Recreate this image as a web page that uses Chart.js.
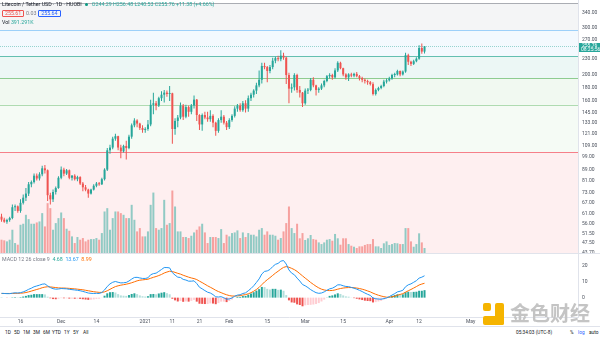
<!DOCTYPE html>
<html>
<head>
<meta charset="utf-8">
<script src="https://cdn.jsdelivr.net/npm/chart.js@4.4.1/dist/chart.umd.min.js"></script>
<style>
  html, body { margin: 0; padding: 0; background: #fff; }
  #wrap { position: relative; width: 600px; height: 337px; overflow: hidden;
          font-family: Roboto, 'Liberation Sans', sans-serif; color: #131722; }
  canvas { position: absolute; left: 0; }
  #priceCanvas { top: 0; }
  #macdCanvas { top: 253px; }
  .row { position: absolute; left: 2px; font-size: 5.3px; line-height: 7px; white-space: nowrap; z-index: 2; }
  .up { color: #26a69a; }
  .dot { display: inline-block; width: 3px; height: 3px; border-radius: 50%; background: #089981; margin: 0 4px 0 3px; vertical-align: 0; }
  .box { display: inline-block; border: 0.5px solid; border-radius: 1px; padding: 0 2px; line-height: 5px; }
  .sell { color: #ef5350; border-color: #ef5350; }
  .buy { color: #2962ff; border-color: #2962ff; }
  .gap { display: inline-block; width: 14px; text-align: center; color: #787b86; }
  .blue { color: #2196f3; }
  .orange { color: #ff6d00; }
  #toolbar { position: absolute; top: 328px; left: 0; width: 600px; height: 9px; font-size: 4.8px; line-height: 9px; z-index: 2; }
  #toolbar span { position: absolute; }
  #wm { position: absolute; left: 483px; top: 302px; z-index: 3; }
  #wm .logo { position: absolute; left: 0; top: 1px; width: 21px; height: 22px; }
  #wm .logo i { position: absolute; background: #f5b400; border-radius: 2px; }
  #wm .txt { position: absolute; left: 27px; top: -4px; font-family: 'Noto Sans CJK SC'; font-weight: 700;
             font-size: 20px; color: #c4c4c4; white-space: nowrap; letter-spacing: 0; }
</style>
</head>
<body>
<div id="wrap">
  <canvas id="priceCanvas" width="600" height="253"></canvas>
  <canvas id="macdCanvas" width="600" height="75"></canvas>

  <div class="row" style="top:1px">Litecoin / Tether USD · 1D · HUOBI<span class="dot"></span><span class="up">O244.29 H256.48 L240.53 C255.76 +11.38 (+4.66%)</span></div>
  <div class="row" style="top:10px"><span class="box sell">255.61</span><span class="gap">0.03</span><span class="box buy">255.64</span></div>
  <div class="row" style="top:19px">Vol <span class="up">391.291K</span></div>
  <div class="row" style="top:256px;color:#787b86">MACD 12 26 close 9 &nbsp;<span class="up">4.68</span> &nbsp;<span class="blue">13.67</span> &nbsp;<span class="orange">8.99</span></div>

  <div id="toolbar">
    <span style="left:5px">1D</span><span style="left:14px">5D</span><span style="left:23px">1M</span>
    <span style="left:33px">3M</span><span style="left:43px">6M</span><span style="left:52px">YTD</span>
    <span style="left:64px">1Y</span><span style="left:73px">5Y</span><span style="left:83px">All</span>
    <span style="left:516px">05:34:03 (UTC-8)</span>
    <span style="left:570px">%</span><span style="left:578px;color:#2962ff">log</span><span style="left:589px">auto</span>
  </div>

  <div id="wm">
    <div class="logo">
      <i style="left:0;top:0;width:8px;height:8px"></i>
      <i style="left:12px;top:0;width:9px;height:22px"></i>
      <i style="left:0;top:13px;width:21px;height:9px"></i>
    </div>
    <div class="txt">金色财经</div>
  </div>
</div>

<script>
// daily LTC/USDT candles, first one is Nov 9 2020 (day -7, counted from Nov 16)
const START_DAY = -7;
const X_MIN = -7.56;
const X_MAX = 205.6;

const open = [
  59.5, 58.0, 57.0, 57.8, 58.8, 64.5, 65.0,
  62.5, 67.0, 70.0, 72.5, 78.5, 80.0, 84.5, 82.5, 85.5, 90.0,
  88.5, 71.5, 69.0, 73.5, 76.0, 83.0, 89.0, 86.0, 88.5, 83.0,
  84.5, 82.0, 83.5, 79.0, 76.5, 75.0, 72.5, 75.0, 77.5, 79.0,
  78.5, 82.0, 89.0, 105.0, 107.5, 116.0, 118.5, 107.5, 104.0, 109.0,
  107.0, 118.0, 130.0, 135.5, 132.0, 127.0, 125.0, 126.0, 131.0, 155.0,
  157.0, 154.0, 164.0, 169.0, 172.0, 170.0, 171.0, 126.0, 135.0, 139.0,
  154.0, 140.0, 152.0, 146.0, 154.0, 162.0, 142.0, 131.0, 142.0, 139.0,
  137.0, 141.0, 133.0, 124.0, 136.0, 140.0, 133.0, 128.0, 136.0, 141.0,
  150.0, 154.0, 148.0, 157.0, 150.0, 164.0, 169.0, 175.0, 183.0, 192.0,
  216.0, 214.0, 207.0, 214.0, 226.0, 231.0, 229.0, 236.0, 232.0, 200.0,
  178.0, 180.0, 200.0, 176.0, 172.0, 157.0, 175.0, 176.0, 192.0, 183.0,
  176.0, 178.0, 183.0, 190.0, 198.0, 200.0, 196.0, 208.0, 222.0, 212.0,
  201.0, 196.0, 201.0, 199.0, 202.0, 198.0, 195.0, 192.0, 190.0, 188.0,
  185.0, 170.0, 176.0, 179.0, 182.0, 189.0, 191.0, 194.0, 200.0, 201.0,
  207.0, 201.0, 206.0, 237.0, 224.0, 220.0, 225.0, 230.0, 252.0, 244.29
];
const high = [
  61.0, 59.0, 58.5, 59.5, 66.0, 66.0, 65.5,
  69.0, 72.0, 76.0, 80.0, 81.0, 86.0, 86.0, 87.0, 92.0, 92.5,
  89.0, 73.0, 75.0, 77.0, 84.0, 91.5, 90.5, 89.5, 89.0, 85.0,
  85.5, 84.5, 84.0, 80.0, 78.0, 75.5, 75.5, 78.5, 80.0, 80.0,
  83.0, 90.0, 107.0, 110.0, 118.0, 121.0, 119.0, 110.0, 110.0, 114.0,
  120.0, 132.0, 138.0, 137.0, 133.0, 130.0, 128.0, 136.0, 162.0, 172.0,
  160.0, 166.0, 174.0, 176.0, 175.0, 182.0, 172.0, 138.0, 142.0, 158.0,
  156.0, 155.0, 154.0, 156.0, 168.0, 163.0, 143.0, 144.0, 146.0, 146.0,
  148.0, 143.0, 134.0, 138.0, 148.0, 142.0, 135.0, 138.0, 143.0, 153.0,
  156.0, 157.0, 160.0, 161.0, 168.0, 172.0, 177.0, 187.0, 208.0, 222.0,
  222.0, 216.0, 218.0, 232.0, 234.0, 236.0, 247.0, 242.0, 234.0, 204.0,
  186.0, 203.0, 202.0, 182.0, 173.0, 178.0, 179.0, 195.0, 196.0, 184.0,
  180.0, 186.0, 192.0, 200.0, 203.0, 202.0, 212.0, 225.0, 224.0, 213.0,
  203.0, 203.0, 204.0, 204.0, 205.0, 200.0, 197.0, 194.0, 192.0, 190.0,
  188.0, 178.0, 181.0, 184.0, 192.0, 194.0, 197.0, 202.0, 204.0, 209.0,
  208.0, 208.0, 242.0, 240.0, 226.0, 228.0, 233.0, 258.0, 262.0, 256.48
];
const low = [
  57.0, 56.5, 56.0, 57.0, 58.2, 62.5, 61.5,
  61.5, 66.0, 68.0, 71.0, 76.5, 79.0, 81.0, 81.0, 84.0, 86.0,
  68.0, 66.0, 67.5, 72.0, 75.5, 82.0, 84.0, 85.0, 82.0, 81.0,
  81.0, 80.5, 78.0, 74.0, 74.0, 70.0, 72.0, 74.5, 76.5, 77.5,
  78.0, 81.0, 88.0, 102.0, 106.0, 114.0, 105.0, 98.0, 103.0, 97.0,
  106.0, 116.0, 128.0, 128.0, 125.0, 122.0, 122.0, 124.0, 129.0, 143.0,
  148.0, 152.0, 160.0, 158.0, 166.0, 160.0, 111.0, 120.0, 128.0, 137.0,
  136.0, 138.0, 140.0, 143.0, 150.0, 135.0, 125.0, 124.0, 137.0, 134.0,
  134.0, 128.0, 119.0, 122.0, 133.0, 131.0, 125.0, 126.0, 134.0, 139.0,
  146.0, 146.0, 146.0, 145.0, 146.0, 160.0, 165.0, 170.0, 180.0, 186.0,
  210.0, 188.0, 203.0, 210.0, 221.0, 225.0, 225.0, 228.0, 185.0, 157.0,
  172.0, 175.0, 172.0, 165.0, 152.0, 155.0, 170.0, 174.0, 180.0, 168.0,
  172.0, 176.0, 180.0, 188.0, 194.0, 192.0, 194.0, 205.0, 210.0, 198.0,
  192.0, 190.0, 196.0, 196.0, 196.0, 191.0, 188.0, 186.0, 184.0, 183.0,
  168.0, 168.0, 174.0, 177.0, 180.0, 186.0, 189.0, 192.0, 196.0, 199.0,
  198.0, 199.0, 204.0, 218.0, 216.0, 218.0, 223.0, 228.0, 240.0, 240.53
];
const close = [
  58.0, 57.0, 57.8, 58.8, 64.5, 65.0, 62.5,
  67.0, 70.0, 72.5, 78.5, 80.0, 84.5, 82.5, 85.5, 90.0, 88.5,
  71.5, 69.0, 73.5, 76.0, 83.0, 89.0, 86.0, 88.5, 83.0, 84.5,
  82.0, 83.5, 79.0, 76.5, 75.0, 72.5, 75.0, 77.5, 79.0, 78.5,
  82.0, 89.0, 105.0, 107.5, 116.0, 118.5, 107.5, 104.0, 109.0, 107.0,
  118.0, 130.0, 135.5, 132.0, 127.0, 125.0, 126.0, 131.0, 155.0, 157.0,
  154.0, 164.0, 169.0, 172.0, 170.0, 171.0, 126.0, 135.0, 139.0, 154.0,
  140.0, 152.0, 146.0, 154.0, 162.0, 142.0, 131.0, 142.0, 139.0, 137.0,
  141.0, 133.0, 124.0, 136.0, 140.0, 133.0, 128.0, 136.0, 141.0, 150.0,
  154.0, 148.0, 157.0, 150.0, 164.0, 169.0, 175.0, 183.0, 192.0, 216.0,
  214.0, 207.0, 214.0, 226.0, 231.0, 229.0, 236.0, 232.0, 200.0, 178.0,
  180.0, 200.0, 176.0, 172.0, 157.0, 175.0, 176.0, 192.0, 183.0, 176.0,
  178.0, 183.0, 190.0, 198.0, 200.0, 196.0, 208.0, 222.0, 212.0, 201.0,
  196.0, 201.0, 199.0, 202.0, 198.0, 195.0, 192.0, 190.0, 188.0, 185.0,
  170.0, 176.0, 179.0, 182.0, 189.0, 191.0, 194.0, 200.0, 201.0, 207.0,
  201.0, 206.0, 237.0, 224.0, 220.0, 225.0, 230.0, 252.0, 244.38, 255.76
];
// volume in thousands of LTC
const volume = [
  1040, 990, 910, 1040, 1820, 780, 650,
  2210, 2290, 2990, 2650, 2290, 2290, 2390, 2470, 3120, 2080,
  3900, 3510, 1820, 2340, 2730, 3170, 2730, 1900, 1740, 1300,
  780, 1250, 1040, 1170, 910, 1040, 1090, 1090, 1170, 1040,
  1560, 3250, 3510, 1820, 2730, 3250, 3250, 3120, 2990, 2730,
  2730, 3770, 2600, 1690, 1950, 1300, 1300, 1690, 3770, 4730,
  1950, 1820, 1950, 4160, 2210, 2340, 4890, 3640, 1690, 1690,
  1250, 1250, 1170, 1350, 1610, 1820, 2080, 2290, 1610, 780,
  1250, 1250, 1250, 1170, 1870, 780, 1430, 1300, 1560, 1610,
  1770, 1170, 1610, 1250, 1560, 1430, 1430, 1300, 1820, 1950,
  1430, 1690, 1430, 1430, 1350, 1040, 1170, 1690, 2340, 3640,
  1950, 1560, 2290, 1150, 1560, 1020, 1150, 1410, 1090, 1040,
  830, 700, 830, 1040, 1090, 960, 1490, 1150, 650, 1150,
  1150, 700, 570, 490, 390, 520, 520, 630, 700, 700,
  1090, 520, 520, 390, 760, 910, 630, 700, 780, 760,
  700, 700, 1950, 1950, 910, 490, 700, 1540, 830, 391.291
];
const macdLine = [
  2.7, 2.6, 2.5, 2.5, 2.8, 3.0, 2.9,
  3.1, 3.6, 4.3, 5.2, 5.9, 6.8, 7.3, 7.8, 8.4, 8.6,
  7.4, 6.3, 5.6, 5.3, 5.4, 5.7, 5.6, 5.5, 5.2, 5.0,
  4.8, 4.6, 4.3, 3.9, 3.4, 2.9, 2.7, 2.6, 2.7, 2.6,
  3.2, 4.8, 7.0, 8.6, 9.6, 10.1, 9.6, 9.2, 9.3, 9.5,
  10.4, 11.6, 12.6, 12.7, 12.3, 12.0, 12.0, 12.4, 14.3, 15.0,
  15.3, 16.4, 17.6, 18.8, 18.8, 18.6, 15.6, 14.1, 12.8, 12.6,
  11.4, 11.0, 10.3, 10.3, 10.5, 8.8, 6.5, 5.5, 4.4, 3.4,
  2.9, 1.9, 0.5, 0.4, 0.6, -0.1, -1.0, -0.8, -0.2, 0.9,
  1.6, 1.8, 2.6, 3.0, 4.3, 5.7, 7.4, 9.5, 11.7, 14.8,
  16.4, 16.7, 17.6, 19.4, 20.8, 21.4, 22.8, 23.2, 21.0, 17.3,
  15.3, 14.3, 12.2, 10.4, 8.2, 7.4, 6.3, 5.0, 4.0, 3.1,
  2.7, 2.9, 3.6, 4.6, 5.5, 5.9, 6.8, 8.0, 8.0, 7.4,
  7.0, 6.9, 6.4, 5.9, 5.3, 4.6, 3.8, 2.9, 2.1, 1.4,
  -0.2, -0.7, -0.9, -1.0, -0.6, -0.2, 0.6, 1.6, 2.5, 3.6,
  4.0, 4.6, 6.8, 8.0, 8.6, 9.6, 10.6, 12.2, 12.8, 13.67
];
const signalLine = [
  2.6, 2.6, 2.6, 2.6, 2.6, 2.7, 2.7,
  2.8, 2.9, 3.2, 3.6, 4.1, 4.6, 5.1, 5.6, 6.2, 6.6,
  6.8, 6.7, 6.5, 6.3, 6.1, 6.0, 6.0, 5.9, 5.8, 5.6,
  5.5, 5.3, 5.1, 4.9, 4.6, 4.3, 4.0, 3.7, 3.5, 3.3,
  3.3, 3.6, 4.3, 5.2, 6.1, 6.9, 7.4, 7.8, 8.1, 8.4,
  8.8, 9.3, 9.9, 10.5, 10.9, 11.1, 11.3, 11.5, 12.1, 12.7,
  13.2, 13.8, 14.5, 15.4, 16.0, 16.5, 16.3, 15.8, 15.2, 14.7,
  14.0, 13.4, 12.8, 12.3, 11.9, 11.3, 10.3, 9.4, 8.4, 7.4,
  6.5, 5.6, 4.6, 3.8, 3.1, 2.4, 1.8, 1.3, 1.0, 1.0,
  1.1, 1.3, 1.6, 1.9, 2.4, 3.1, 4.0, 5.1, 6.4, 8.1,
  9.8, 11.2, 12.5, 13.9, 15.3, 16.5, 17.8, 18.9, 19.4, 19.0,
  18.3, 17.5, 16.4, 15.0, 13.6, 12.2, 10.9, 9.5, 8.3, 7.1,
  6.1, 5.3, 4.8, 4.5, 4.4, 4.5, 4.8, 5.3, 5.7, 6.0,
  6.2, 6.3, 6.3, 6.2, 6.0, 5.7, 5.3, 4.8, 4.2, 3.6,
  2.8, 2.1, 1.5, 1.0, 0.6, 0.3, 0.3, 0.5, 0.9, 1.5,
  2.0, 2.5, 3.4, 4.3, 5.1, 6.0, 6.9, 7.9, 8.5, 8.99
];

const priceTicks = [340, 300, 270, 230, 200, 180, 160, 145, 133, 121, 109, 99, 89, 81, 73, 67, 61, 56, 51.5, 47.5, 43.7];
const macdTicks = [0, 10, 20];
const timeTickDays = [0, 15, 28, 46, 56, 66, 77, 91, 105, 119, 136, 147, 166];
const timeTickLabels = ['16', 'Dec', '14', '2021', '11', '21', 'Feb', '15', 'Mar', '15', 'Apr', '12', 'May'];

// fib retracement levels (price) and their colours, lowest first
const fibLevels = [25.5, 103.5, 155, 195, 235, 294, 370];
const fibColors = ['#787b86', '#f23645', '#81c784', '#4caf50', '#089981', '#64b5f6', '#787b86'];

const COUNTDOWN = '08:25:56';
const UP = '#26a69a';
const DOWN = '#ef5350';
const AXIS_TEXT = '#4c525e';
const PANE_LINE = '#e0e3eb';
const AXIS_FONT = { size: 5 };

Chart.defaults.font.family = "Roboto, 'Liberation Sans', sans-serif";

function rgba(hex, a) {
  const n = parseInt(hex.slice(1), 16);
  return `rgba(${n >> 16},${(n >> 8) & 255},${n & 255},${a})`;
}

const days = close.map((_, i) => START_DAY + i);
const isUp = close.map((c, i) => c >= open[i]);
const candleColors = isUp.map(u => (u ? UP : DOWN));
const volumeColors = isUp.map(u => (u ? rgba(UP, 0.5) : rgba(DOWN, 0.5)));

const hist = macdLine.map((m, i) => m - signalLine[i]);
const histColors = hist.map((h, i) => {
  const prev = i > 0 ? hist[i - 1] : h;
  if (h >= 0) return h >= prev ? '#26a69a' : '#b2dfdb';
  return h < prev ? '#ef5350' : '#ffcdd2';
});

// shared sizing for the right hand price scale
function fixRightAxis(scale) {
  scale.width = 22;
  scale.paddingTop = 0;
  scale.paddingBottom = 0;
}

const fibBands = {
  id: 'fibBands',
  beforeDatasetsDraw(chart) {
    const { ctx, chartArea: a, scales: { y } } = chart;
    ctx.save();
    ctx.beginPath();
    ctx.rect(a.left, a.top, a.right - a.left, a.bottom - a.top);
    ctx.clip();
    for (let i = 1; i < fibLevels.length; i++) {
      const yTop = y.getPixelForValue(fibLevels[i]);
      const yBot = y.getPixelForValue(fibLevels[i - 1]);
      ctx.fillStyle = rgba(fibColors[i], 0.08);
      ctx.fillRect(a.left, yTop, a.right - a.left, yBot - yTop);
      ctx.strokeStyle = rgba(fibColors[i], 0.6);
      ctx.lineWidth = 1;
      ctx.beginPath();
      ctx.moveTo(a.left, Math.round(yTop) + 0.5);
      ctx.lineTo(a.right, Math.round(yTop) + 0.5);
      ctx.stroke();
    }
    ctx.restore();
  }
};

const lastPrice = {
  id: 'lastPrice',
  afterDraw(chart) {
    const { ctx, chartArea: a, scales: { y } } = chart;
    const last = close[close.length - 1];
    const py = Math.round(y.getPixelForValue(last)) + 0.5;
    ctx.save();
    ctx.strokeStyle = rgba(UP, 0.45);
    ctx.lineWidth = 1;
    ctx.setLineDash([1, 1]);
    ctx.beginPath();
    ctx.moveTo(a.left, py);
    ctx.lineTo(a.right, py);
    ctx.stroke();
    ctx.setLineDash([]);
    // pane / scale border
    ctx.strokeStyle = PANE_LINE;
    ctx.beginPath();
    ctx.moveTo(a.right + 0.5, a.top);
    ctx.lineTo(a.right + 0.5, a.bottom);
    ctx.stroke();
    // price tag on the scale
    ctx.fillStyle = UP;
    ctx.fillRect(a.right + 1, py - 3.5, 21, 9);
    ctx.fillStyle = '#fff';
    ctx.font = "5px Roboto, 'Liberation Sans', sans-serif";
    ctx.textBaseline = 'middle';
    ctx.textAlign = 'left';
    ctx.fillText(last.toFixed(2), a.right + 4, py - 0.5);
    ctx.fillText(COUNTDOWN, a.right + 3, py + 3.5);
    ctx.restore();
  }
};

const paneBorders = {
  id: 'paneBorders',
  afterDraw(chart) {
    const { ctx, chartArea: a } = chart;
    ctx.save();
    ctx.strokeStyle = PANE_LINE;
    ctx.lineWidth = 1;
    ctx.beginPath();
    ctx.moveTo(0, 0.5);
    ctx.lineTo(chart.width, 0.5);
    ctx.moveTo(a.right + 0.5, a.top);
    ctx.lineTo(a.right + 0.5, a.bottom);
    ctx.moveTo(0, chart.height - 1.5);
    ctx.lineTo(chart.width, chart.height - 1.5);
    ctx.stroke();
    ctx.restore();
  }
};

new Chart(document.getElementById('priceCanvas'), {
  type: 'bar',
  data: {
    datasets: [
      {
        label: 'body',
        data: days.map((d, i) => ({ x: d, y: [open[i], close[i]] })),
        backgroundColor: candleColors,
        barThickness: 2,
        minBarLength: 1,
        grouped: false,
        inflateAmount: 0,
        order: 1,
        yAxisID: 'y'
      },
      {
        label: 'wick',
        data: days.map((d, i) => ({ x: d, y: [low[i], high[i]] })),
        backgroundColor: candleColors,
        barThickness: 1,
        grouped: false,
        inflateAmount: 0,
        order: 2,
        yAxisID: 'y'
      },
      {
        label: 'volume',
        data: days.map((d, i) => ({ x: d, y: volume[i] })),
        backgroundColor: volumeColors,
        barThickness: 2,
        grouped: false,
        inflateAmount: 0,
        order: 3,
        yAxisID: 'yVol'
      }
    ]
  },
  options: {
    responsive: false,
    animation: false,
    events: [],
    layout: { padding: 0 },
    plugins: { legend: { display: false }, tooltip: { enabled: false } },
    scales: {
      x: { type: 'linear', display: false, min: X_MIN, max: X_MAX, offset: false, bounds: 'data' },
      y: {
        type: 'logarithmic',
        position: 'right',
        min: 43.6,
        max: 380,
        bounds: 'data',
        beginAtZero: false,
        grid: { display: false, drawTicks: false },
        border: { display: false },
        ticks: {
          autoSkip: false,
          padding: 4,
          color: AXIS_TEXT,
          font: AXIS_FONT,
          callback: v => Number(v).toFixed(2)
        },
        afterBuildTicks: s => { s.ticks = priceTicks.map(v => ({ value: v })); },
        afterFit: fixRightAxis
      },
      yVol: { type: 'linear', display: false, min: 0, max: 19800 }
    }
  },
  plugins: [fibBands, lastPrice]
});

new Chart(document.getElementById('macdCanvas'), {
  type: 'bar',
  data: {
    datasets: [
      {
        label: 'Histogram',
        data: days.map((d, i) => ({ x: d, y: hist[i] })),
        backgroundColor: histColors,
        barThickness: 2,
        inflateAmount: 0,
        order: 3
      },
      {
        type: 'line',
        label: 'Signal',
        data: days.map((d, i) => ({ x: d, y: signalLine[i] })),
        borderColor: '#ff6d00',
        borderWidth: 1,
        pointRadius: 0,
        tension: 0,
        order: 2
      },
      {
        type: 'line',
        label: 'MACD',
        data: days.map((d, i) => ({ x: d, y: macdLine[i] })),
        borderColor: '#2196f3',
        borderWidth: 1,
        pointRadius: 0,
        tension: 0,
        order: 1
      }
    ]
  },
  options: {
    responsive: false,
    animation: false,
    events: [],
    layout: { padding: 0 },
    plugins: { legend: { display: false }, tooltip: { enabled: false } },
    scales: {
      x: {
        type: 'linear',
        min: X_MIN,
        max: X_MAX,
        offset: false,
        bounds: 'data',
        grid: { display: false, drawTicks: false },
        border: { display: true, color: PANE_LINE },
        ticks: {
          autoSkip: false,
          maxRotation: 0,
          padding: 1.5,
          color: AXIS_TEXT,
          font: AXIS_FONT,
          callback: (v, i) => timeTickLabels[i]
        },
        afterBuildTicks: s => { s.ticks = timeTickDays.map(v => ({ value: v })); },
        afterFit: s => { s.height = 11; s.paddingLeft = 0; s.paddingRight = 0; }
      },
      y: {
        position: 'right',
        min: -12.1,
        max: 27.9,
        bounds: 'data',
        grid: { display: false, drawTicks: false },
        border: { display: false },
        ticks: {
          autoSkip: false,
          padding: 4,
          color: AXIS_TEXT,
          font: AXIS_FONT,
          callback: v => String(v)
        },
        afterBuildTicks: s => { s.ticks = macdTicks.map(v => ({ value: v })); },
        afterFit: fixRightAxis
      }
    }
  },
  plugins: [paneBorders]
});
</script>
</body>
</html>
